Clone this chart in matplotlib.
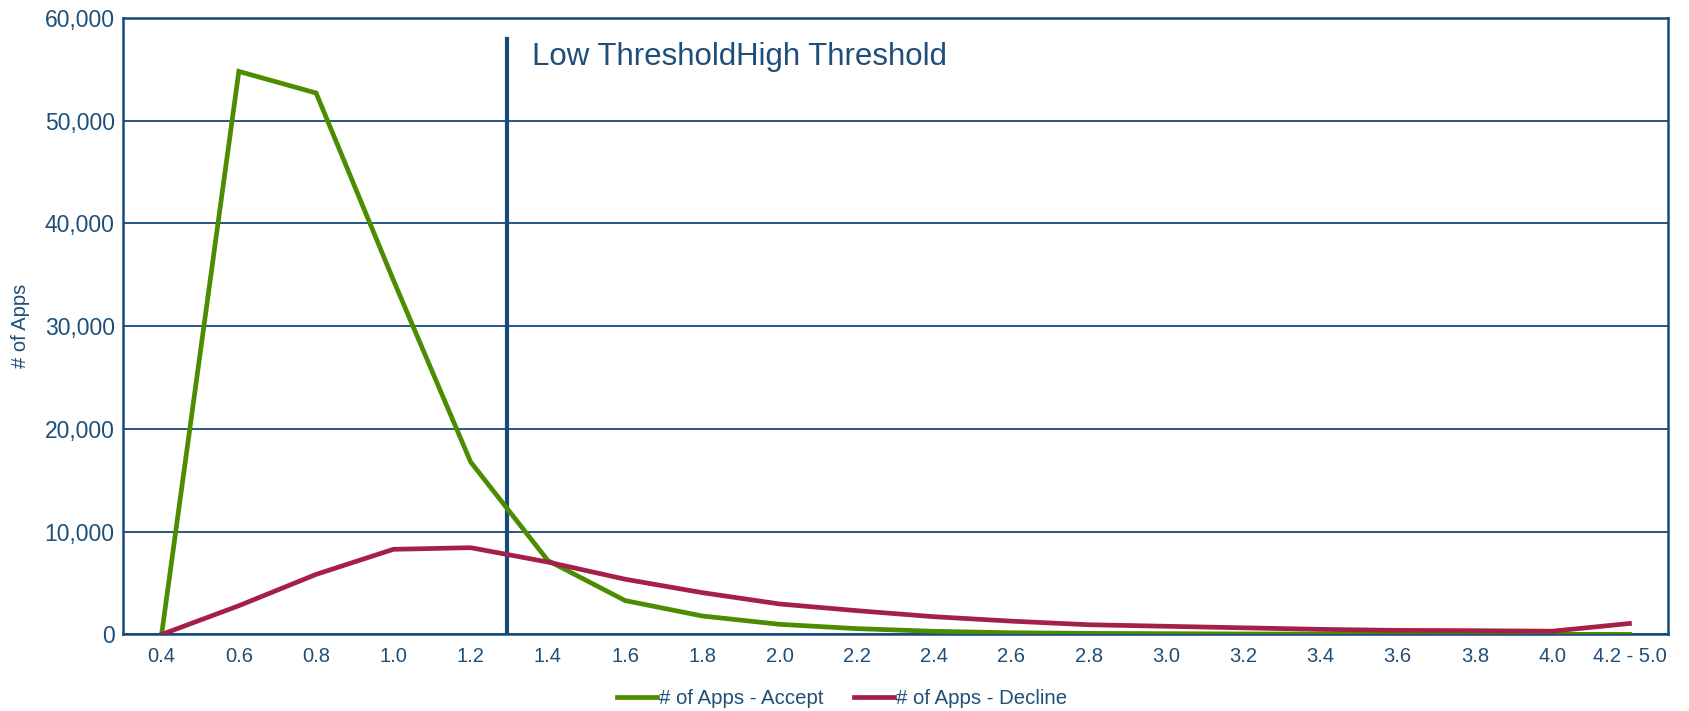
import numpy as np
import matplotlib
matplotlib.use("Agg")
import matplotlib.pyplot as plt

plt.rcParams['font.family'] = ['Liberation Sans', 'DejaVu Sans']

# score buckets on the x axis
categories = ['0.4', '0.6', '0.8', '1.0', '1.2', '1.4', '1.6', '1.8', '2.0', '2.2',
              '2.4', '2.6', '2.8', '3.0', '3.2', '3.4', '3.6', '3.8', '4.0', '4.2 - 5.0']

accept = [0, 54800, 52700, 34500, 16800, 7200, 3300, 1800, 990, 570,
          310, 170, 110, 80, 50, 40, 30, 20, 15, 10]
decline = [0, 2800, 5850, 8290, 8450, 7050, 5380, 4070, 2970, 2320,
           1730, 1300, 950, 800, 650, 500, 400, 370, 320, 1070]

threshold_pos = 4.47      # between 1.2 and 1.4
threshold_top = 58000

navy = '#17497a'
text_col = '#1f4e79'
green = '#4c8c00'
red = '#a52048'

fig = plt.figure(figsize=(16.89, 7.11), dpi=100)
ax = fig.add_axes([0.0728, 0.1076, 0.9148, 0.8671])

x = np.arange(len(categories))
ax.plot(x, accept, color=green, lw=3.4, label='# of Apps - Accept', solid_joinstyle='miter', zorder=3)
ax.plot(x, decline, color=red, lw=3.4, label='# of Apps - Decline', solid_joinstyle='miter', zorder=3)

# threshold marker
ax.plot([threshold_pos, threshold_pos], [0, threshold_top], color=navy, lw=3, zorder=2)
ax.text(4.80, 55400, 'Low Threshold', fontsize=22.5, color=text_col, va='baseline', ha='left')
ax.text(7.43, 55400, 'High Threshold', fontsize=22.5, color=text_col, va='baseline', ha='left')

ax.set_xlim(-0.5, len(categories) - 0.5)
ax.set_ylim(0, 60000)
ax.set_yticks(np.arange(0, 60001, 10000))
ax.set_yticklabels([f'{v:,}' for v in range(0, 60001, 10000)])
ax.set_xticks(x)
ax.set_xticklabels(categories)

ax.grid(axis='y', color=navy, lw=1.3)
ax.set_axisbelow(True)
for s in ax.spines.values():
    s.set_color(navy)
    s.set_linewidth(1.8)

ax.tick_params(axis='y', length=0, pad=6, labelsize=16.5, labelcolor=text_col)
ax.tick_params(axis='x', length=0, pad=9, labelsize=14.5, labelcolor=text_col)

ax.set_ylabel('# of Apps', fontsize=14.5, color=text_col)
ax.yaxis.set_label_coords(-0.060, 0.5)

leg = fig.legend(loc='center', bbox_to_anchor=(0.4985, 0.017), ncol=2, frameon=False,
                 fontsize=14.7, handlelength=1.95, handletextpad=0.1, columnspacing=1.5)
for t in leg.get_texts():
    t.set_color(text_col)

fig.savefig('out.png', dpi=100)
